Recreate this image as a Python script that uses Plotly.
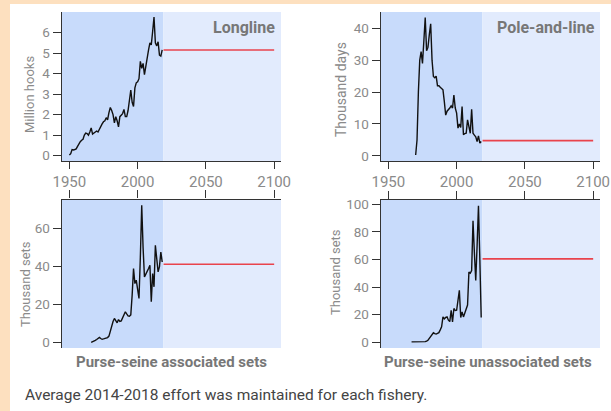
import plotly.graph_objects as go

# ---------------- data ----------------
longline_start = 1950
longline = [0.03, 0.1, 0.3, 0.28, 0.3, 0.33, 0.45, 0.6, 0.68, 0.75,
            0.8, 1.0, 1.1, 1.08, 1.0, 1.15, 1.35, 1.05, 1.1, 1.15,
            1.2, 1.15, 1.3, 1.45, 1.55, 1.65, 1.7, 1.85, 1.75, 2.1,
            2.35, 2.2, 2.0, 1.6, 1.9, 1.7, 1.4, 1.9, 2.0, 2.05,
            2.25, 1.9, 1.9, 2.2, 2.7, 3.2, 2.6, 2.4, 3.3, 3.55,
            3.6, 3.75, 4.6, 4.25, 4.5, 3.95, 4.35, 4.85, 5.15, 5.5,
            5.4, 6.05, 6.75, 5.5, 5.35, 5.55, 4.9, 4.85, 5.15]
longline_avg = 5.15

pole_start = 1970
pole = [0.3, 5, 20, 30, 32.7, 29, 36, 43.4, 33, 34,
        38, 41.4, 30, 24.9, 24.5, 25, 22, 22, 21.5, 21,
        20.7, 17, 12.8, 14, 14.4, 15, 15.7, 15, 19.1, 15,
        13.4, 8.7, 10, 8.9, 15.5, 6.6, 7, 7.1, 11.3, 9.2,
        7.1, 14.6, 7.1, 6.5, 6, 4.5, 6.3, 4, 4.5]
pole_avg = 4.8

assoc_start = 1966
assoc = [0, 0.2, 0.5, 1.0, 1.5, 2.0, 2.6, 2.0, 1.6, 1.8,
         2.0, 2.2, 2.5, 3.3, 6, 9, 11, 12.6, 11, 10.3,
         12, 11, 11.3, 13, 14.5, 16.1, 15, 14, 13.8, 14.5,
         25, 38.9, 31, 32.8, 28, 23.2, 45, 72.3, 50, 34.5,
         36, 37.2, 39, 40.7, 21.4, 36.3, 29.3, 51.2, 42, 37.2,
         40, 47.7, 42.4]
assoc_avg = 41.2

unassoc_start = 1967
unassoc = [0.3, 0.3, 0.3, 0.3, 0.3, 0.3, 0.3, 0.4, 0.4, 0.5,
           0.5, 0.9, 1.5, 2.9, 4, 5.5, 6.9, 6.3, 6, 6.5,
           7, 9, 11.2, 18.4, 17, 18, 18.4, 16, 15, 23.2,
           14.8, 24.5, 23, 23.2, 30, 37.6, 18, 22, 18.4, 21,
           25, 27, 50.8, 50, 52, 88, 65, 44.8, 70, 98.8,
           60, 18]
unassoc_avg = 60.4

proj_years = [2019, 2100]
x_ticks = [1950, 2000, 2050, 2100]
x_tick_labels = ["1950", "2000", "2050", "2100"]

panel_titles = ["Longline", "Pole-and-line",
                "Purse-seine associated sets", "Purse-seine unassociated sets"]
y_titles = ["Million hooks", "Thousand days", "Thousand sets", "Thousand sets"]
y_ticks = [[0, 1, 2, 3, 4, 5, 6], [0, 10, 20, 30, 40],
           [0, 20, 40, 60], [0, 20, 40, 60, 80, 100]]
caption = "Average 2014-2018 effort was maintained for each fishery."

# ---------------- styling ----------------
W, H = 611, 411
FONT = "Roboto, Liberation Sans, sans-serif"
PEACH = "#fde0bf"
DARK = "#c8dbfb"
LIGHT = "#e2ebfd"
RED = "#e9434c"
AXC = "#333333"
TICKC = "#8a8a8a"
TITC = "#777777"
XR = [1944.4, 2105]
SPLIT = 2018.7

def px(x):
    return x / W

def py(y):
    return 1 - y / H

series = [
    (longline_start, longline, longline_avg),
    (pole_start, pole, pole_avg),
    (assoc_start, assoc, assoc_avg),
    (unassoc_start, unassoc, unassoc_avg),
]

xdoms = [[px(61.7), px(281)], [px(380.7), px(600)],
         [px(61.7), px(281)], [px(380.7), px(600)]]
ydoms = [[py(161), py(12)], [py(161), py(12)],
         [py(348), py(199.5)], [py(348), py(200)]]
yranges = [[-0.26, 7.0], [-1.6, 45.1], [-3, 75.4], [-4.1, 103]]

fig = go.Figure()
shapes = [dict(type="rect", xref="paper", yref="paper", x0=px(10), x1=1.0,
               y0=0, y1=py(4), fillcolor="white", line=dict(width=0), layer="below")]
annotations = []

for i, (start, vals, avg) in enumerate(series):
    n = i + 1
    xa = "x" if n == 1 else f"x{n}"
    ya = "y" if n == 1 else f"y{n}"
    years = list(range(start, start + len(vals)))
    fig.add_trace(go.Scatter(x=years, y=vals, mode="lines", xaxis=xa, yaxis=ya,
                             line=dict(color="#111111", width=1.4), showlegend=False,
                             hoverinfo="skip"))
    fig.add_trace(go.Scatter(x=proj_years, y=[avg, avg], mode="lines", xaxis=xa, yaxis=ya,
                             line=dict(color=RED, width=1.6), showlegend=False,
                             hoverinfo="skip"))
    shapes.append(dict(type="rect", xref=xa, yref=f"{ya} domain", x0=XR[0], x1=SPLIT,
                       y0=0, y1=1, fillcolor=DARK, line=dict(width=0), layer="below"))
    shapes.append(dict(type="rect", xref=xa, yref=f"{ya} domain", x0=SPLIT, x1=XR[1],
                       y0=0, y1=1, fillcolor=LIGHT, line=dict(width=0), layer="below"))

    top = i < 2
    xkey = "xaxis" if n == 1 else f"xaxis{n}"
    ykey = "yaxis" if n == 1 else f"yaxis{n}"
    fig.update_layout({
        xkey: dict(domain=xdoms[i], range=XR, anchor=ya, side="bottom" if top else "top",
                   showline=True, linecolor=AXC, linewidth=1.2, ticks="outside",
                   ticklen=7 if top else 8, tickcolor=AXC, tickwidth=1,
                   tickvals=x_ticks, ticktext=x_tick_labels, showticklabels=top,
                   tickfont=dict(family=FONT, size=15, color=TICKC),
                   showgrid=False, zeroline=False, fixedrange=True,
                   automargin=False, layer="above traces"),
        ykey: dict(domain=ydoms[i], range=yranges[i], anchor=xa,
                   showline=True, linecolor=AXC, linewidth=1.2, ticks="outside",
                   ticklen=8, tickcolor=AXC, tickwidth=1, tickvals=y_ticks[i],
                   tickfont=dict(family=FONT, size=13.5, color=TICKC),
                   showgrid=False, zeroline=False, fixedrange=True,
                   automargin=False, layer="above traces"),
    })

# panel titles
annotations.append(dict(text="<b>" + panel_titles[0] + "</b>", xref="paper", yref="paper",
                        x=px(277), y=py(27), xanchor="right", yanchor="middle", showarrow=False,
                        font=dict(family=FONT, size=16, color=TITC)))
annotations.append(dict(text="<b>" + panel_titles[1] + "</b>", xref="paper", yref="paper",
                        x=px(597), y=py(27), xanchor="right", yanchor="middle", showarrow=False,
                        font=dict(family=FONT, size=16, color=TITC)))
annotations.append(dict(text="<b>" + panel_titles[2] + "</b>", xref="paper", yref="paper",
                        x=px(171.5), y=py(362), xanchor="center", yanchor="middle", showarrow=False,
                        font=dict(family=FONT, size=15, color=TITC)))
annotations.append(dict(text="<b>" + panel_titles[3] + "</b>", xref="paper", yref="paper",
                        x=px(488), y=py(362), xanchor="center", yanchor="middle", showarrow=False,
                        font=dict(family=FONT, size=15, color=TITC)))

# y titles
for (xc, yc, fs), t in zip([(30, 94, 13), (341, 90, 14), (25, 284, 13), (335, 272, 13)], y_titles):
    annotations.append(dict(text=t, xref="paper", yref="paper", x=px(xc), y=py(yc),
                            xanchor="center", yanchor="middle", textangle=-90, showarrow=False,
                            font=dict(family=FONT, size=fs, color=TICKC)))

annotations.append(dict(text=caption, xref="paper", yref="paper", x=px(23), y=py(395),
                        xanchor="left", yanchor="middle", showarrow=False,
                        font=dict(family=FONT, size=15.5, color="#444444")))

fig.update_layout(width=W, height=H, margin=dict(l=0, r=0, t=0, b=0),
                  paper_bgcolor=PEACH, plot_bgcolor="rgba(0,0,0,0)",
                  shapes=shapes, annotations=annotations, showlegend=False)

fig.write_html("out.html", config={"displayModeBar": False},
               post_script="document.body.style.margin='0';document.body.style.overflow='hidden';")
